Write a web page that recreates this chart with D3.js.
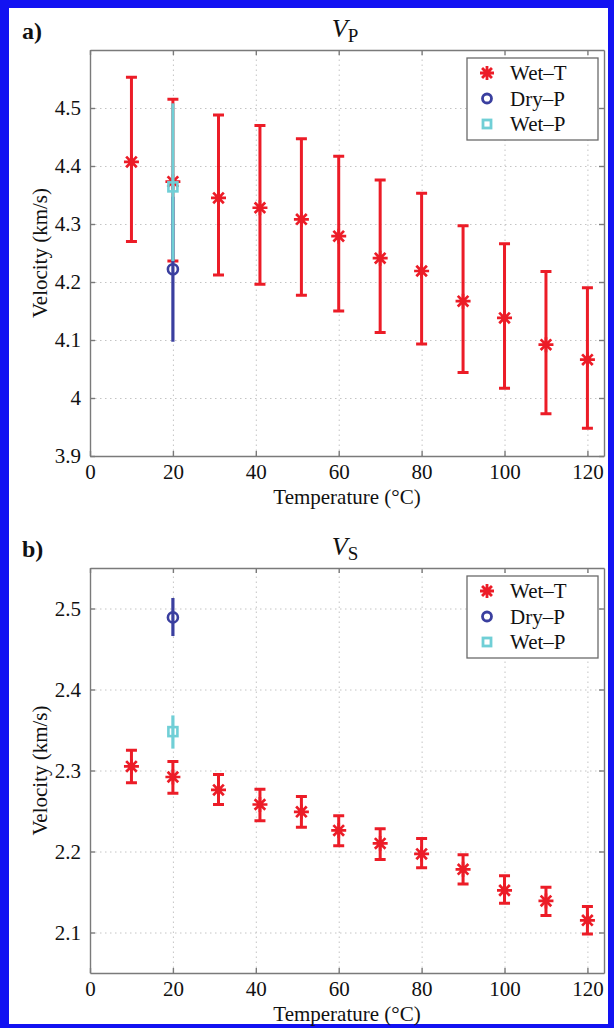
<!DOCTYPE html>
<html>
<head>
<meta charset="utf-8">
<script src="https://d3js.org/d3.v7.min.js"></script>
<style>
  body { margin: 0; background: #fff; }
  svg { display: block; font-family: "Liberation Serif", "Times New Roman", serif; }
  .axis path, .axis line { stroke: #7a7a7a; stroke-width: 1.4px; }
  .axis text { fill: #111; font-size: 21px; font-family: "Liberation Serif", serif; }
  .grid line { stroke: #c4c4c4; stroke-width: 1px; stroke-dasharray: 1.5 3.5; }
  .grid path { display: none; }
</style>
</head>
<body>
<script>
  // values
  var temps = [10, 20, 31, 41, 51, 60, 70, 80, 90, 100, 110, 120];

  var vpWet   = [4.407, 4.373, 4.345, 4.328, 4.308, 4.279, 4.241, 4.219, 4.167, 4.138, 4.092, 4.066];
  var vpWetLo = [4.270, 4.236, 4.212, 4.196, 4.177, 4.150, 4.113, 4.093, 4.044, 4.017, 3.973, 3.948];
  var vpWetHi = [4.553, 4.515, 4.488, 4.470, 4.447, 4.417, 4.376, 4.353, 4.297, 4.266, 4.218, 4.190];

  var vsWet   = [2.305, 2.292, 2.276, 2.258, 2.249, 2.226, 2.210, 2.197, 2.178, 2.152, 2.139, 2.115];
  var vsWetLo = [2.285, 2.272, 2.258, 2.238, 2.230, 2.207, 2.190, 2.180, 2.160, 2.136, 2.121, 2.098];
  var vsWetHi = [2.325, 2.311, 2.295, 2.277, 2.268, 2.244, 2.228, 2.216, 2.196, 2.170, 2.156, 2.132];

  // dry / wet pressure series: [temp, value, low, high]
  var vpDry = [[20, 4.222, 4.097, 4.347]];
  var vpWetP = [[20, 4.364, 4.236, 4.508]];
  var vsDry = [[20, 2.489, 2.466, 2.513]];
  var vsWetP = [[20, 2.348, 2.327, 2.368]];

  var xTicks = [0, 20, 40, 60, 80, 100, 120];
  var vpTicks = [3.9, 4, 4.1, 4.2, 4.3, 4.4, 4.5];
  var vsTicks = [2.1, 2.2, 2.3, 2.4, 2.5];
  var legendNames = ["Wet\u2013T", "Dry\u2013P", "Wet\u2013P"];

  var red = "#ec1c27", blue = "#3a3f9f", cyan = "#70cfd6";
  var serif = "'Liberation Serif', 'Times New Roman', serif";

  var W = 614, H = 1028;
  var svg = d3.select("body").append("svg")
      .attr("width", W)
      .attr("height", H);

  // blue frame
  svg.append("rect").attr("width", W).attr("height", H).attr("fill", "#1212f2");
  svg.append("rect").attr("x", 9).attr("y", 8).attr("width", 599).attr("height", 1016).attr("fill", "#fff");

  var x = d3.scaleLinear().domain([0, 124]).range([90, 604]);

  function star(r) {
    var d = r * Math.SQRT1_2;
    return `M${-r},0L${r},0M0,${-r}L0,${r}M${-d},${-d}L${d},${d}M${-d},${d}L${d},${-d}`;
  }

  function panel(opt) {
    var y = d3.scaleLinear().domain(opt.domain).range([opt.bottom, opt.top]);
    var g = svg.append("g");
    var w = x.range()[1] - x.range()[0], h = opt.bottom - opt.top;

    g.append("g").attr("class", "grid")
        .attr("transform", `translate(0,${opt.bottom})`)
        .call(d3.axisBottom(x).tickValues(xTicks.slice(1)).tickSize(-h).tickFormat(""));
    g.append("g").attr("class", "grid")
        .attr("transform", `translate(${x.range()[0]},0)`)
        .call(d3.axisLeft(y).tickValues(opt.ticks).tickSize(-w).tickFormat(""));

    g.append("g").attr("class", "axis")
        .attr("transform", `translate(0,${opt.bottom})`)
        .call(d3.axisBottom(x).tickValues(xTicks).tickSize(-5).tickSizeOuter(0).tickPadding(8));
    g.append("g").attr("class", "axis")
        .attr("transform", `translate(0,${opt.top})`)
        .call(d3.axisTop(x).tickValues(xTicks).tickSize(-5).tickSizeOuter(0).tickFormat(""));
    g.append("g").attr("class", "axis")
        .attr("transform", `translate(${x.range()[0]},0)`)
        .call(d3.axisLeft(y).tickValues(opt.ticks).tickSize(-5).tickSizeOuter(0).tickPadding(9).tickFormat(d3.format("")));
    g.append("g").attr("class", "axis")
        .attr("transform", `translate(${x.range()[1]},0)`)
        .call(d3.axisRight(y).tickValues(opt.ticks).tickSize(-5).tickSizeOuter(0).tickFormat(""));
    g.selectAll(".axis").attr("font-family", serif).attr("font-size", 21);
    g.selectAll(".axis text").style("font-family", serif).style("font-size", "21px");

    // wet-T series
    var wet = opt.temps.map((t, i) => ({t: t, v: opt.wet[i], lo: opt.lo[i], hi: opt.hi[i]}));
    var eb = g.append("g").attr("stroke", red).attr("stroke-width", 3).attr("fill", "none");
    eb.selectAll(".bar").data(wet).enter().append("path")
        .attr("d", d => `M${x(d.t)},${y(d.lo)}V${y(d.hi)}M${x(d.t) - 5.5},${y(d.lo)}h11M${x(d.t) - 5.5},${y(d.hi)}h11`);
    eb.selectAll(".mk").data(wet).enter().append("path")
        .attr("transform", d => `translate(${x(d.t)},${y(d.v)})`)
        .attr("stroke-width", 2.7)
        .attr("d", star(7.5));

    // dry-P
    var dry = g.append("g").attr("stroke", blue).attr("stroke-width", 3.2).attr("fill", "none");
    dry.selectAll("path").data(opt.dry).enter().append("path")
        .attr("d", d => `M${x(d[0])},${y(d[2])}V${y(d[3])}`);
    dry.selectAll("circle").data(opt.dry).enter().append("circle")
        .attr("cx", d => x(d[0])).attr("cy", d => y(d[1])).attr("r", 5)
        .attr("stroke-width", 2.6);

    // wet-P
    var wp = g.append("g").attr("stroke", cyan).attr("stroke-width", 3.2).attr("fill", "none");
    wp.selectAll("path").data(opt.wetP).enter().append("path")
        .attr("d", d => `M${x(d[0])},${y(d[2])}V${y(d[3])}`);
    wp.selectAll("rect").data(opt.wetP).enter().append("rect")
        .attr("x", d => x(d[0]) - 4.5).attr("y", d => y(d[1]) - 4.5)
        .attr("width", 9).attr("height", 9).attr("stroke-width", 2.6);

    // legend
    var lg = g.append("g").attr("transform", `translate(467,${opt.top + 8})`);
    lg.append("rect").attr("width", 131).attr("height", 82)
        .attr("fill", "#fff").attr("stroke", "#6a6a6a").attr("stroke-width", 1.3);
    lg.selectAll("text").data(legendNames).enter().append("text")
        .attr("font-family", serif).attr("font-size", 21).attr("fill", "#111")
        .attr("x", 43).attr("y", (d, i) => 22 + i * 25.5)
        .text(d => d);
    lg.append("path").attr("transform", "translate(20,15)")
        .attr("d", star(7)).attr("stroke", red).attr("stroke-width", 2.8).attr("fill", "none");
    lg.append("circle").attr("cx", 20).attr("cy", 40.5).attr("r", 4.5)
        .attr("stroke", blue).attr("stroke-width", 2.8).attr("fill", "none");
    lg.append("rect").attr("x", 16).attr("y", 62).attr("width", 8).attr("height", 8)
        .attr("stroke", cyan).attr("stroke-width", 2.8).attr("fill", "none");

    // labels
    svg.append("text").attr("x", 22).attr("y", opt.top - 11)
        .attr("font-family", serif).attr("font-size", 24).attr("font-weight", "bold").attr("fill", "#111").text(opt.tag);
    var tt = svg.append("text").attr("x", 345).attr("y", opt.top - 13)
        .attr("font-family", serif).attr("text-anchor", "middle").attr("font-size", 26).attr("fill", "#111");
    tt.append("tspan").attr("font-style", "italic").text("V");
    tt.append("tspan").attr("font-size", 19).attr("dy", 5).text(opt.sub);

    svg.append("text").attr("font-family", serif).attr("font-size", 21).attr("fill", "#111")
        .attr("x", 347).attr("y", opt.bottom + 48)
        .attr("text-anchor", "middle").text("Temperature (\u00b0C)");
    svg.append("text").attr("font-family", serif).attr("font-size", 21).attr("fill", "#111")
        .attr("transform", `translate(47,${(opt.top + opt.bottom) / 2}) rotate(-90)`)
        .attr("text-anchor", "middle").text("Velocity (km/s)");
  }

  panel({top: 50, bottom: 456, domain: [3.9, 4.6], ticks: vpTicks, tag: "a)", sub: "P",
         temps: temps, wet: vpWet, lo: vpWetLo, hi: vpWetHi, dry: vpDry, wetP: vpWetP});
  panel({top: 568, bottom: 973, domain: [2.05, 2.55], ticks: vsTicks, tag: "b)", sub: "S",
         temps: temps, wet: vsWet, lo: vsWetLo, hi: vsWetHi, dry: vsDry, wetP: vsWetP});
</script>
</body>
</html>
